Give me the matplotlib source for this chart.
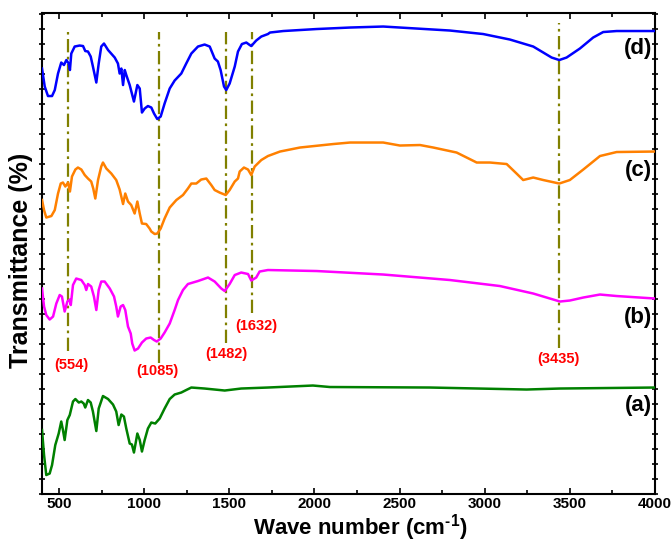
import matplotlib
matplotlib.use("Agg")
import matplotlib.pyplot as plt
from matplotlib.ticker import MultipleLocator

plt.rcParams["font.family"] = ["Liberation Sans", "DejaVu Sans"]
plt.rcParams["font.weight"] = "bold"
plt.rcParams["mathtext.fontset"] = "custom"
plt.rcParams["mathtext.rm"] = "Liberation Sans:bold"
plt.rcParams["mathtext.bf"] = "Liberation Sans:bold"
plt.rcParams["mathtext.default"] = "bf"

# ---- FTIR spectra (wavenumber in cm-1, transmittance stacked with offsets) ----
wn_d = [400, 416, 435, 459, 475, 494, 513, 529, 543, 557, 564, 572, 592, 621, 641,
        654, 670, 686, 699, 719, 733, 748, 764, 788, 827, 846, 856, 866, 876, 886,
        895, 915, 940, 960, 974, 987, 1003, 1022, 1042, 1058, 1077, 1097, 1120,
        1150, 1179, 1218, 1247, 1277, 1316, 1355, 1385, 1414, 1433, 1449, 1469,
        1482, 1502, 1532, 1551, 1574, 1600, 1620, 1629, 1658, 1688, 1727, 1739,
        1817, 2013, 2209, 2404, 2600, 2796, 2991, 3148, 3285, 3344, 3393, 3438,
        3481, 3559, 3637, 3696, 3775, 4000]
t_d = [85.1, 81.5, 79.6, 79.6, 80.8, 84.1, 86.3, 85.8, 86.8, 86.1, 84.8, 88.1, 89.5,
       89.7, 89.6, 88.6, 88.5, 87.5, 85.5, 82.3, 86.1, 89.5, 90.1, 88.8, 87.3, 86.1,
       84.1, 85.1, 81.8, 84.8, 83.8, 81.8, 78.5, 81.8, 81.1, 76.3, 77.1, 77.6, 77.3,
       76.1, 75.0, 75.5, 78.1, 81.1, 82.7, 84.1, 86.1, 88.1, 89.5, 89.9, 89.5, 87.1,
       86.5, 84.8, 81.5, 80.8, 82.1, 85.5, 88.5, 90.0, 90.3, 89.8, 89.6, 90.7, 91.5,
       92.0, 92.3, 92.6, 93.0, 93.3, 93.5, 93.1, 92.7, 92.0, 90.9, 89.5, 88.3, 87.3,
       86.8, 87.3, 89.1, 91.3, 92.4, 92.6, 92.6]

wn_c = [400, 412, 425, 455, 475, 494, 510, 523, 537, 553, 564, 576, 596, 611, 631,
        651, 670, 689, 701, 713, 729, 748, 758, 778, 807, 836, 856, 876, 889, 905,
        924, 944, 960, 974, 987, 1012, 1032, 1042, 1062, 1077, 1097, 1120, 1150,
        1189, 1228, 1257, 1277, 1306, 1335, 1365, 1394, 1414, 1443, 1479, 1502,
        1532, 1551, 1561, 1586, 1610, 1629, 1649, 1688, 1727, 1798, 1915, 2111,
        2209, 2404, 2502, 2620, 2698, 2835, 2953, 3031, 3129, 3187, 3226, 3285,
        3344, 3438, 3500, 3579, 3677, 3775, 4000]
t_c = [58.8, 56.8, 55.3, 55.6, 56.8, 60.1, 62.1, 62.3, 61.5, 62.3, 60.5, 63.5, 64.9,
       65.3, 64.9, 63.8, 63.1, 62.5, 61.1, 59.1, 62.8, 65.5, 66.3, 65.1, 64.1, 62.8,
       60.9, 58.0, 60.1, 58.5, 57.8, 56.1, 58.5, 56.1, 54.1, 54.0, 53.1, 52.5, 52.0,
       52.1, 53.1, 55.1, 57.3, 58.8, 59.8, 61.1, 62.1, 62.1, 62.9, 63.1, 61.8, 60.8,
       60.3, 59.8, 60.8, 62.5, 63.1, 64.5, 65.3, 64.9, 63.8, 65.5, 66.8, 67.6, 68.5,
       69.3, 70.0, 70.3, 70.3, 69.7, 69.8, 69.3, 68.3, 66.3, 66.3, 66.0, 64.1, 62.8,
       63.3, 62.8, 62.1, 62.8, 64.9, 67.6, 68.4, 68.5]

wn_b = [400, 412, 425, 445, 465, 484, 504, 517, 533, 549, 563, 569, 582, 601, 631,
        651, 660, 670, 689, 705, 719, 733, 748, 768, 798, 823, 836, 846, 862, 876,
        889, 905, 921, 930, 944, 964, 987, 1012, 1038, 1058, 1074, 1097, 1120, 1150,
        1179, 1199, 1228, 1257, 1316, 1375, 1414, 1453, 1473, 1502, 1532, 1570,
        1610, 1629, 1658, 1678, 1727, 2013, 2404, 2796, 3089, 3285, 3442, 3500,
        3579, 3677, 3775, 4000]
t_b = [41.1, 37.5, 35.8, 34.9, 35.5, 38.1, 39.8, 39.5, 36.5, 38.5, 38.9, 37.8, 41.8,
       43.1, 42.8, 41.8, 40.8, 42.0, 41.5, 39.5, 36.8, 40.8, 42.5, 42.5, 41.1, 39.5,
       37.5, 35.5, 37.5, 37.8, 36.8, 33.5, 32.1, 30.1, 28.7, 29.1, 30.3, 31.1, 31.3,
       30.8, 30.5, 31.1, 32.3, 34.1, 36.8, 38.8, 40.8, 42.0, 42.6, 43.3, 42.5, 41.1,
       40.6, 42.0, 43.8, 44.3, 44.0, 42.7, 43.3, 44.5, 44.8, 44.6, 43.9, 42.8, 41.6,
       40.1, 38.5, 38.7, 39.3, 39.9, 39.6, 39.1]

wn_a = [400, 412, 425, 445, 459, 478, 498, 513, 523, 533, 549, 563, 582, 596, 616,
        631, 645, 654, 670, 686, 699, 719, 733, 758, 788, 817, 836, 850, 866, 881,
        895, 915, 928, 940, 960, 974, 987, 1003, 1022, 1042, 1065, 1091, 1120, 1150,
        1179, 1218, 1247, 1277, 1355, 1473, 1570, 1727, 1991, 2091, 2678, 3246,
        3442, 4000]
t_a = [12.8, 7.8, 3.8, 4.1, 5.8, 9.8, 12.1, 14.5, 12.8, 10.8, 14.8, 15.8, 18.5, 19.0,
       18.3, 18.5, 18.1, 17.3, 18.8, 18.3, 16.5, 12.6, 17.1, 19.6, 19.0, 17.9, 16.5,
       13.8, 15.9, 15.5, 13.1, 10.1, 9.9, 8.3, 12.1, 10.8, 8.5, 10.8, 13.1, 14.3,
       14.1, 15.1, 17.1, 19.0, 19.9, 20.3, 20.8, 21.3, 21.1, 20.7, 21.1, 21.3, 21.7,
       21.4, 21.3, 20.9, 21.1, 21.3]

series_names = ["(a)", "(b)", "(c)", "(d)"]
series_colors = ["#008000", "#FF00FF", "#FF8000", "#0000FF"]

# Marked absorption bands (cm-1)
bands = [554, 1085, 1482, 1632, 3435]
band_labels = ["(554)", "(1085)", "(1482)", "(1632)", "(3435)"]

# ---- layout / styling ----
band_line_top = [92.4, 92.4, 92.4, 92.4, 94.2]
band_line_bottom = [28.6, 26.2, 30.2, 36.2, 29.2]
band_label_x = [570, 1080, 1480, 1660, 3436]
band_label_y = [25.8, 24.6, 28.0, 33.6, 27.0]
name_y = [17.8, 35.4, 64.8, 89.2]

fig = plt.figure(figsize=(6.71, 5.43), dpi=100)
ax = fig.add_axes([0.0626, 0.0902, 0.9135, 0.8858])

for wn, t, c in zip([wn_a, wn_b, wn_c, wn_d], [t_a, t_b, t_c, t_d], series_colors):
    ax.plot(wn, t, color=c, lw=1.8, solid_joinstyle="round", zorder=3)

for b, y0, y1 in zip(bands, band_line_bottom, band_line_top):
    ax.plot([b, b], [y0, y1], color="#808000", lw=1.6,
            linestyle=(0, (6, 2, 1.2, 2)), zorder=2)

for lab, x, y in zip(band_labels, band_label_x, band_label_y):
    ax.text(x, y, lab, color="#FF0000", fontsize=10.5, fontweight="bold",
            ha="center", va="center")

for name, y in zip(series_names, name_y):
    ax.text(3983, y, name, color="black", fontsize=16, fontweight="bold",
            ha="right", va="center")

ax.set_xlim(400, 4000)
ax.set_ylim(0, 96.2)
ax.xaxis.set_major_locator(MultipleLocator(500))
ax.xaxis.set_minor_locator(MultipleLocator(250))
ax.yaxis.set_major_locator(MultipleLocator(3))
ax.set_yticklabels([])
ax.tick_params(axis="x", which="major", direction="in", length=4, width=1.2,
               top=True, labelsize=11, pad=2.5)
ax.tick_params(axis="x", which="minor", direction="in", length=3, width=1.2, top=True)
ax.tick_params(axis="y", which="major", direction="inout", length=5, width=1.2,
               right=True, labelleft=False)
for lab in ax.get_xticklabels():
    lab.set_fontweight("bold")
for s in ax.spines.values():
    s.set_linewidth(1.5)

ax.set_xlabel(r"Wave number (cm$^{\text{-1}}$)", fontsize=16, fontweight="bold")
ax.xaxis.set_label_coords(0.52, -0.085, transform=ax.transAxes)
ax.xaxis.label.set_va("baseline")
ax.set_ylabel("Transmittance (%)", fontsize=18, fontweight="bold")
ax.yaxis.set_label_coords(-0.034, 0.485, transform=ax.transAxes)
ax.yaxis.label.set_va("center")

fig.savefig("out.png", dpi=100)
